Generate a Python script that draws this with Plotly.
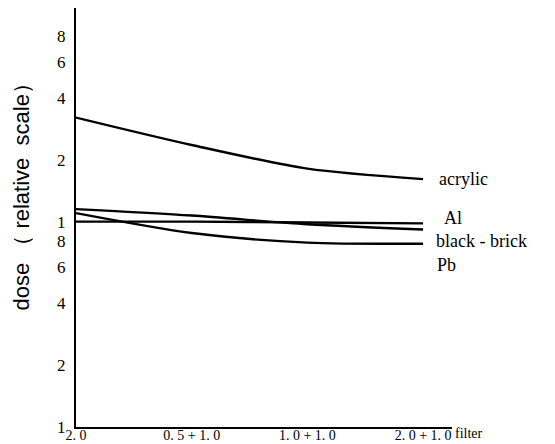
import math
import plotly.graph_objects as go

filters = ["2. 0", "0. 5 + 1. 0", "1. 0 + 1. 0", "2. 0 + 1. 0"]
acrylic = [3.21, 2.36, 1.81, 1.61]
al = [1.00, 1.00, 0.99, 0.98]
black_brick = [1.15, 1.07, 0.97, 0.915]
pb = [1.10, 0.88, 0.79, 0.78]

ytick_vals = [0.1, 0.2, 0.4, 0.6, 0.8, 1, 2, 4, 6, 8]
ytick_text = ["1", "2", "4", "6", "8", "1", "2", "4", "6", "8"]

series = [
    ("acrylic", acrylic, 14, 0),
    ("Al", al, 19, 5),
    ("black - brick", black_brick, 11, -11),
    ("Pb", pb, 12, -21),
]

serif = "Liberation Serif, Times New Roman, serif"

fig = go.Figure()
for name, vals, xs, ys in series:
    fig.add_trace(go.Scatter(
        x=filters, y=vals, mode="lines", name=name,
        line=dict(color="black", width=2.4, shape="spline", smoothing=0.8),
        showlegend=False, hoverinfo="skip",
    ))
    fig.add_annotation(
        x=filters[-1], y=math.log10(vals[-1]), yref="y", xref="x",
        text=name, showarrow=False, xanchor="left", yanchor="middle",
        xshift=xs, yshift=ys,
        font=dict(family=serif, size=18, color="black"),
    )

fig.add_annotation(
    x=1, y=0, xref="paper", yref="paper", text="filter", showarrow=False,
    xanchor="left", yanchor="top", xshift=1, yshift=3,
    font=dict(family=serif, size=14, color="black"),
)

fig.add_annotation(
    x=0, y=0.562, xref="paper", yref="paper",
    text="dose （ relative  scale）", textangle=-90, showarrow=False,
    xanchor="center", yanchor="middle", xshift=-54,
    font=dict(family="Liberation Sans, Arial, sans-serif", size=22, color="black"),
)

fig.update_layout(
    width=555, height=444,
    margin=dict(l=68, r=111, t=0, b=25),
    paper_bgcolor="white", plot_bgcolor="white",
    showlegend=False,
)
fig.update_xaxes(
    type="category", range=[0, 3.25], automargin=False,
    showgrid=False, zeroline=False,
    showline=True, linecolor="black", linewidth=2,
    ticks="", tickfont=dict(family=serif, size=14, color="black"),
    ticklabelstandoff=-6,
)
fig.update_yaxes(
    type="log", range=[-1.0, 1.04], automargin=False,
    tickvals=ytick_vals, ticktext=ytick_text,
    showgrid=False, zeroline=False,
    showline=True, linecolor="black", linewidth=2,
    ticks="", tickfont=dict(family=serif, size=17, color="black"),
    ticklabelstandoff=5,
)

fig.write_html("out.html")
